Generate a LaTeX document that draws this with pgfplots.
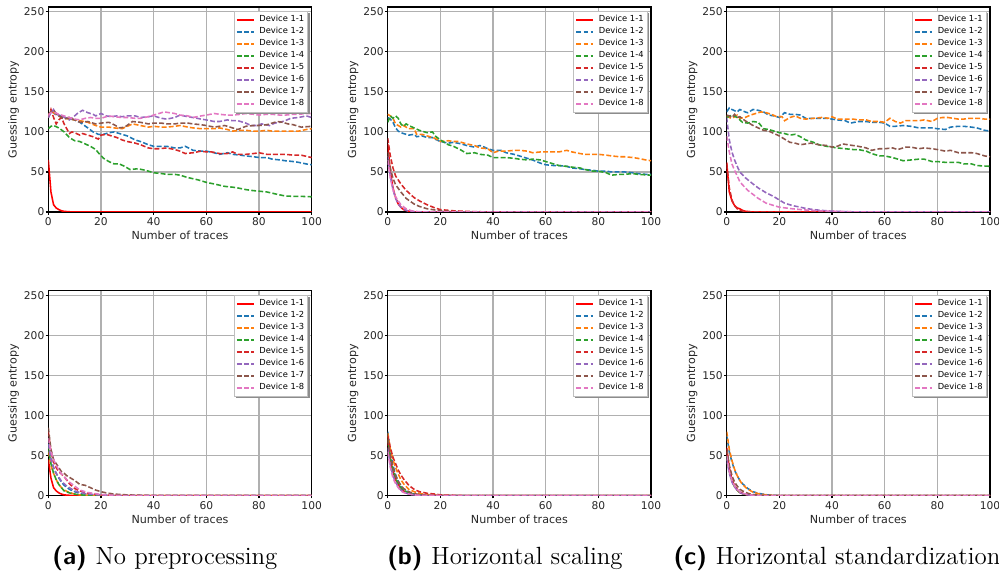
\documentclass[border=0pt]{standalone}
\usepackage{fontspec}
\usepackage{pgfplots}
\pgfplotsset{compat=1.18}
\newfontfamily\dv{DejaVu Sans}
\definecolor{c1}{HTML}{FF0000}
\definecolor{c2}{HTML}{1F77B4}
\definecolor{c3}{HTML}{FF7F0E}
\definecolor{c4}{HTML}{2CA02C}
\definecolor{c5}{HTML}{D62728}
\definecolor{c6}{HTML}{9467BD}
\definecolor{c7}{HTML}{8C564B}
\definecolor{c8}{HTML}{E377C2}
\definecolor{gridgray}{HTML}{B0B0B0}
\pgfplotsset{
  s1/.style={color=c1, solid, line width=0.7pt},
  dd/.style={dash pattern=on 2.2pt off 1pt, line width=0.7pt},
  gestyle/.style={
    scale only axis, width=118.5pt, height=92.25pt,
    anchor=south west,
    xmin=0, xmax=100, ymin=0, ymax=256,
    xtick={0,20,...,100}, ytick={0,50,...,250},
    grid=major, major grid style={line width=0.5pt, color=gridgray},
    axis line style={line width=0.6pt, black},
    tick align=outside, major tick length=1.2pt,
    tick style={line width=0.5pt, black},
    tick pos=left,
    /pgf/number format/assume math mode=true,
    tick label style={font=\dv\fontsize{4.8}{5.5}\selectfont, text=black!85},
    xticklabel style={inner sep=1.3pt},
    yticklabel style={inner sep=0.4pt},
    xlabel={Number of traces}, ylabel={Guessing entropy},
    label style={font=\dv\fontsize{5}{6}\selectfont, text=black!85, inner sep=0pt},
    xlabel style={at={(axis description cs:0.5,-0.1146)}, anchor=center},
    ylabel style={at={(axis description cs:-0.1317,0.5)}, anchor=center},
    legend image code/.code={\draw[#1, line width=0.8pt] (0pt,0pt) -- (7.5pt,0pt);},
    legend cell align=left,
    legend style={at={(1,1)}, anchor=north east, xshift=-1.7pt, yshift=-1.85pt,
      font=\dv\fontsize{3.75}{4}\selectfont, draw=black!25, line width=0.3pt,
      fill=white, inner xsep=0.9pt, inner ysep=1.9pt, row sep=1.7pt, column sep=1.6pt,
      nodes={inner xsep=0.6pt, inner ysep=0pt, text height=2.8pt, text depth=0.9pt}},
  }
}
\newcommand\devlegend{\legend{Device 1-1,Device 1-2,Device 1-3,Device 1-4,Device 1-5,Device 1-6,Device 1-7,Device 1-8}}
\newcommand\shadowfor[1]{%
  \fill[black!45] ([xshift=0.15pt,yshift=-0.9pt]#1.north east) rectangle ([xshift=0.9pt,yshift=-0.9pt]#1.south east);
  \fill[black!45] ([xshift=0.9pt,yshift=-0.15pt]#1.south west) rectangle ([xshift=0.9pt,yshift=-0.9pt]#1.south east);}
\begin{document}
\begin{tikzpicture}
\useasboundingbox (0,0) rectangle (449.55pt,259.65pt);
% ---------------- top (a)
\begin{axis}[gestyle, at={(21.74pt,164.25pt)}, legend style={name=La}]
\addplot[s1] coordinates {(0,65)(1,25)(2,9)(3,5)(4,3)(5,1.5)(6,0.8)(8,0.3)(10,0)(100,0)};
\addplot[c2,dd] coordinates {(0,118)(1,125)(2,124)(3,121)(5,120)(7,117)(10,115)(12,112)(15,105)(17,100)(19,97)(21,97)(23,99)(25,100)(28,97)(30,95)(33,90)(35,88)(38,84)(40,82)(43,82)(45,82)(48,80)(50,80)(52,82)(55,77)(58,76)(60,76)(63,74)(65,72)(68,74)(70,72)(73,71)(75,70)(78,69)(80,68)(83,68)(85,66)(88,65)(90,64)(93,63)(95,62)(98,60)(100,59)};
\addplot[c3,dd] coordinates {(0,120)(1,126)(3,122)(5,118)(8,116)(10,115)(12,114)(15,112)(18,108)(20,106)(23,106)(25,105)(28,104)(30,107)(32,110)(35,108)(38,106)(40,107)(43,106)(45,106)(48,107)(50,108)(53,106)(55,105)(58,104)(60,104)(63,104)(65,105)(68,103)(70,101)(73,102)(75,102)(78,101)(80,101)(83,102)(85,101)(88,101)(90,101)(93,101)(95,101)(98,103)(100,104)};
\addplot[c4,dd] coordinates {(0,104)(1,107)(2,108)(4,105)(6,100)(8,93)(10,89)(12,88)(14,85)(16,82)(18,78)(19,74)(21,67)(23,63)(25,60)(27,60)(29,57)(31,53)(34,54)(37,52)(40,49)(43,48)(45,47)(48,47)(50,46)(53,43)(57,40)(60,37)(63,35)(67,32)(70,31)(72,30)(75,28)(77,27)(80,26)(83,25)(87,22)(90,20)(93,19.5)(96,19.5)(100,19)};
\addplot[c5,dd] coordinates {(0,118)(1,128)(2,118)(3,110)(4,115)(5,118)(6,110)(7,104)(8,98)(9,100)(10,99)(12,96)(13,98)(15,96)(17,94)(19,91)(20,96)(22,97)(24,95)(26,93)(28,90)(30,88)(33,86)(35,84)(38,80)(40,79)(42,79)(45,80)(48,78)(50,76)(52,73)(55,74)(58,76)(60,75)(62,75)(65,73)(68,73)(70,75)(72,72)(75,72)(78,73)(80,74)(83,72)(85,72)(88,72)(90,72)(93,71)(96,71)(100,68)};
\addplot[c6,dd] coordinates {(0,118)(1,124)(2,128)(3,122)(5,120)(7,117)(8,115)(10,120)(11,123)(13,127)(15,124)(17,122)(18,120)(20,123)(22,120)(24,119)(26,120)(28,119)(30,120)(33,120)(35,118)(38,119)(40,120)(43,117)(45,116)(48,118)(50,121)(53,119)(55,118)(58,116)(60,115)(63,113)(65,113)(68,115)(70,114)(72,114)(75,111)(77,108)(79,108)(81,110)(84,108)(86,111)(88,112)(90,114)(92,117)(95,118)(98,120)(100,118)};
\addplot[c7,dd] coordinates {(0,122)(1,125)(2,127)(3,123)(4,120)(6,116)(8,118)(10,115)(12,112)(15,113)(18,110)(20,111)(23,112)(25,109)(27,105)(29,106)(32,113)(35,112)(38,110)(40,111)(43,111)(45,110)(48,110)(50,111)(53,111)(55,110)(58,109)(60,108)(63,106)(65,107)(67,108)(70,105)(72,103)(75,107)(78,108)(80,108)(83,109)(85,111)(87,113)(89,112)(91,110)(93,109)(96,106)(100,107)};
\addplot[c8,dd] coordinates {(0,121)(1,124)(2,125)(4,122)(6,120)(8,118)(10,116)(12,115)(14,117)(16,118)(18,117)(20,117)(23,120)(25,119)(28,118)(30,118)(33,117)(35,117)(38,119)(40,121)(42,123)(44,125)(46,124)(48,123)(50,121)(53,120)(55,118)(58,120)(60,121)(63,123)(65,122)(68,121)(70,121)(73,122)(75,123)(78,122)(80,121)(83,122)(85,122)(88,121)(90,121)(93,122)(95,122)(98,123)(100,123)};
\devlegend
\end{axis}
\shadowfor{La}
% ---------------- top (b)
\begin{axis}[gestyle, at={(174.47pt,164.25pt)}, legend style={name=Lb}]
\addplot[s1] coordinates {(0,85)(1,50)(2,30)(3,18)(4,10)(5,6)(6,3)(7,2)(8,1)(10,0.3)(12,0)(100,0)};
\addplot[c2,dd] coordinates {(0,118)(1,116)(2,112)(3,105)(4,101)(5,99)(7,97)(8,96)(10,97)(11,94)(13,95)(15,93)(17,93)(18,91)(20,88)(23,86)(25,87)(28,85)(30,83)(33,81)(35,83)(36,82)(38,79)(40,77)(43,77)(45,74)(48,72)(50,70)(53,67)(55,65)(58,61)(60,59)(63,58)(65,58)(68,57)(70,55)(73,54)(75,53)(78,52)(80,51)(83,51)(85,50)(88,50)(90,50)(93,49)(95,48)(98,47)(100,47)};
\addplot[c3,dd] coordinates {(0,122)(1,120)(2,117)(3,110)(4,108)(5,106)(6,108)(8,104)(10,104)(11,97)(13,97)(15,95)(18,92)(20,88)(23,89)(25,88)(27,88)(30,85)(33,83)(35,80)(38,79)(40,74)(42,76)(45,76)(48,77)(50,77)(53,76)(55,74)(58,75)(60,75)(63,75)(65,75)(68,77)(70,75)(73,73)(75,72)(78,72)(80,72)(83,71)(85,70)(88,69)(90,69)(93,68)(95,67)(98,65)(100,64)};
\addplot[c4,dd] coordinates {(0,112)(1,120)(2,117)(3,120)(4,117)(5,110)(6,107)(7,110)(8,108)(10,105)(12,102)(15,99)(17,100)(18,95)(20,90)(23,84)(25,82)(28,77)(30,73)(33,74)(35,72)(38,71)(40,68)(43,68)(45,68)(48,67)(50,66)(53,65)(55,66)(58,65)(60,63)(63,60)(65,58)(68,57)(70,56)(73,55)(75,53)(78,51)(80,51)(83,49)(85,46)(88,47)(90,47)(93,48)(95,47)(100,46)};
\addplot[c5,dd] coordinates {(0,92)(1,70)(2,55)(3,45)(5,35)(7,27)(10,18)(12,14)(15,9)(18,5)(20,3)(25,1.5)(30,0.7)(35,0.3)(40,0)(100,0)};
\addplot[c6,dd] coordinates {(0,70)(1,45)(2,28)(3,17)(4,10)(5,6)(6,4)(7,2)(8,1)(10,0.3)(12,0)(100,0)};
\addplot[c7,dd] coordinates {(0,75)(1,55)(2,42)(3,34)(5,25)(7,17)(10,10)(12,7)(15,4)(18,2.5)(20,1.5)(25,0.5)(30,0)(100,0)};
\addplot[c8,dd] coordinates {(0,65)(1,42)(2,28)(3,19)(5,9)(7,4)(9,1.5)(12,0.3)(15,0)(100,0)};
\devlegend
\end{axis}
\shadowfor{Lb}
% ---------------- top (c)
\begin{axis}[gestyle, at={(327.0pt,164.25pt)}, legend style={name=Lc}]
\addplot[s1] coordinates {(0,62)(1,25)(2,14)(3,8)(4,5)(5,4)(6,2)(7,1)(8,0.5)(10,0)(100,0)};
\addplot[c2,dd] coordinates {(0,125)(1,130)(2,128)(4,125)(5,128)(7,125)(8,124)(10,128)(12,127)(14,125)(16,121)(18,120)(20,118)(22,124)(24,122)(26,122)(28,121)(30,117)(33,117)(35,117)(38,117)(40,116)(42,115)(45,114)(47,111)(50,113)(53,113)(55,112)(58,112)(60,111)(62,107)(64,107)(67,108)(70,107)(73,105)(75,105)(78,105)(80,104)(83,103)(85,106)(88,107)(90,107)(93,106)(95,105)(98,102)(100,101)};
\addplot[c3,dd] coordinates {(0,120)(1,118)(2,117)(4,121)(5,117)(7,118)(9,121)(11,123)(13,125)(15,124)(17,122)(19,119)(21,119)(22,114)(24,118)(26,120)(28,117)(30,116)(33,117)(36,118)(39,117)(40,119)(42,116)(45,116)(48,116)(50,115)(53,115)(55,113)(58,113)(60,112)(62,117)(64,113)(66,111)(68,114)(70,114)(73,114)(75,115)(78,113)(80,117)(82,118)(84,118)(86,117)(88,116)(90,116)(92,117)(94,117)(96,117)(98,116)(100,116)};
\addplot[c4,dd] coordinates {(0,118)(2,121)(4,118)(6,112)(8,111)(10,113)(12,112)(14,104)(16,103)(18,101)(20,99)(22,98)(24,96)(26,97)(28,94)(30,90)(33,87)(35,84)(38,82)(40,81)(42,80)(45,79)(48,78)(50,78)(53,76)(55,73)(58,70)(60,70)(63,68)(65,66)(67,64)(70,65)(73,66)(75,66)(78,63)(80,63)(83,62)(85,62)(88,62)(90,60)(93,60)(95,58)(100,57)};
\addplot[c5,dd] coordinates {(0,60)(1,30)(2,15)(3,8)(4,4)(5,2)(7,0.8)(10,0)(100,0)};
\addplot[c6,dd] coordinates {(0,118)(1,90)(2,75)(3,65)(4,57)(5,50)(7,43)(10,35)(12,30)(15,24)(18,19)(20,15)(22,11)(25,8)(28,6)(30,4.5)(33,3)(36,2)(40,1)(45,0.5)(50,0)(100,0)};
\addplot[c7,dd] coordinates {(0,121)(1,120)(2,118)(3,122)(4,118)(5,119)(7,114)(9,110)(10,108)(12,105)(14,102)(16,101)(18,98)(20,95)(22,91)(24,87)(26,86)(28,84)(30,85)(32,86)(35,84)(38,83)(40,81)(42,82)(44,85)(46,84)(48,83)(50,82)(53,80)(55,77)(58,79)(60,79)(63,80)(65,78)(68,81)(70,81)(73,79)(75,80)(78,79)(80,78)(83,76)(85,77)(88,74)(90,74)(93,74)(95,73)(98,70)(100,69)};
\addplot[c8,dd] coordinates {(0,95)(1,75)(2,60)(3,52)(4,45)(5,38)(6,34)(8,27)(10,22)(12,17)(15,11)(18,8)(20,6)(25,4)(30,2.5)(35,1.5)(40,1)(45,0.5)(50,0)(100,0)};
\devlegend
\end{axis}
\shadowfor{Lc}
% ---------------- bottom (a)
\begin{axis}[gestyle, at={(21.74pt,36.59pt)}, legend style={name=Ld, yshift=-0.135pt}]
\addplot[s1] coordinates {(0,45)(1,22)(2,10)(3,6)(4,3.5)(5,2)(6,1)(8,0.5)(10,0)(100,0)};
\addplot[c2,dd] coordinates {(0,65)(1,45)(2,35)(3,28)(4,22)(5,17)(6,13)(8,8)(10,5)(12,3)(15,1.5)(20,0.5)(25,0)(100,0)};
\addplot[c3,dd] coordinates {(0,55)(1,38)(2,28)(3,20)(4,14)(5,10)(6,7)(8,4)(10,2)(12,1)(15,0.5)(20,0)(100,0)};
\addplot[c4,dd] coordinates {(0,60)(1,40)(2,28)(3,20)(4,14)(5,10)(6,6)(8,3.5)(10,2)(12,1)(15,0.5)(20,0)(100,0)};
\addplot[c5,dd] coordinates {(0,80)(1,55)(2,42)(3,35)(4,30)(5,27)(6,24)(8,15)(10,9)(12,6)(15,3)(20,1)(25,0.5)(30,0)(100,0)};
\addplot[c6,dd] coordinates {(0,65)(1,45)(2,35)(3,28)(5,18)(7,12)(10,6)(12,4)(15,2)(20,0.8)(25,0.3)(30,0)(100,0)};
\addplot[c7,dd] coordinates {(0,85)(1,58)(2,45)(3,40)(4,35)(5,30)(6,28)(7,25)(8,23)(10,19)(12,14)(14,13)(16,10)(18,7)(20,5)(22,3.5)(25,2)(30,1)(35,0.5)(40,0)(100,0)};
\addplot[c8,dd] coordinates {(0,72)(1,55)(2,45)(3,38)(4,32)(5,27)(6,24)(7,20)(8,17)(10,12)(12,7)(15,4)(20,1.5)(25,0.5)(30,0)(100,0)};
\devlegend
\end{axis}
\shadowfor{Ld}
% ---------------- bottom (b)
\begin{axis}[gestyle, at={(174.47pt,36.59pt)}, legend style={name=Le, yshift=-0.135pt}]
\addplot[s1] coordinates {(0,70)(1,45)(2,30)(3,20)(4,14)(5,9)(6,6)(8,3)(10,1.5)(12,0.8)(15,0.3)(20,0)(100,0)};
\addplot[c2,dd] coordinates {(0,80)(1,55)(2,38)(3,26)(4,18)(5,12)(6,8)(8,4)(10,2)(12,1)(15,0.4)(20,0)(100,0)};
\addplot[c3,dd] coordinates {(0,78)(1,58)(2,45)(3,35)(4,27)(5,20)(6,15)(8,8)(10,5)(12,3)(15,1.5)(20,0.5)(25,0)(100,0)};
\addplot[c4,dd] coordinates {(0,72)(1,48)(2,32)(3,22)(4,15)(5,10)(6,7)(8,3)(10,1.5)(12,0.7)(15,0)(100,0)};
\addplot[c5,dd] coordinates {(0,75)(1,60)(2,48)(3,40)(4,32)(5,26)(6,21)(8,13)(10,8)(12,5)(15,3)(18,2)(20,1)(25,0.5)(30,0)(100,0)};
\addplot[c6,dd] coordinates {(0,60)(1,38)(2,25)(3,17)(4,11)(5,7)(6,4.5)(8,2)(10,1)(12,0.4)(15,0)(100,0)};
\addplot[c7,dd] coordinates {(0,70)(1,50)(2,35)(3,25)(4,18)(5,13)(6,9)(8,5)(10,2.5)(12,1.5)(15,0.5)(20,0)(100,0)};
\addplot[c8,dd] coordinates {(0,55)(1,35)(2,22)(3,15)(4,10)(5,6)(6,4)(8,2)(10,1)(12,0.5)(15,0.3)(20,0.2)(25,0)(100,0)};
\devlegend
\end{axis}
\shadowfor{Le}
% ---------------- bottom (c)
\begin{axis}[gestyle, at={(327.0pt,36.59pt)}, legend style={name=Lf, yshift=-0.135pt}]
\addplot[s1] coordinates {(0,60)(1,35)(2,20)(3,12)(4,7)(5,4)(6,2.5)(8,1)(10,0.3)(12,0)(100,0)};
\addplot[c2,dd] coordinates {(0,75)(1,55)(2,42)(3,32)(4,25)(5,19)(6,15)(8,9)(10,5)(12,3)(15,1.2)(18,0.5)(20,0)(100,0)};
\addplot[c3,dd] coordinates {(0,80)(1,58)(2,44)(3,33)(4,25)(5,19)(6,14)(8,8)(10,4.5)(12,2.5)(15,1)(18,0.3)(20,0)(100,0)};
\addplot[c4,dd] coordinates {(0,50)(1,30)(2,18)(3,11)(4,7)(5,4)(6,2.5)(8,1)(10,0.5)(12,0)(100,0)};
\addplot[c5,dd] coordinates {(0,55)(1,32)(2,20)(3,12)(4,8)(5,5)(6,3)(8,1.5)(10,0.5)(12,0)(100,0)};
\addplot[c6,dd] coordinates {(0,45)(1,28)(2,17)(3,11)(4,7)(5,4)(6,2.5)(8,1)(10,0.3)(12,0)(100,0)};
\addplot[c7,dd] coordinates {(0,58)(1,38)(2,25)(3,17)(4,12)(5,8)(6,6)(8,3)(10,1.5)(12,0.6)(15,0)(100,0)};
\addplot[c8,dd] coordinates {(0,50)(1,30)(2,19)(3,12)(4,8)(5,5)(6,3)(8,1.5)(10,0.5)(12,0)(100,0)};
\devlegend
\end{axis}
\shadowfor{Lf}
% ---------------- captions
\node[anchor=base west, inner sep=0pt, font=\fontsize{11.2}{13}\selectfont] at (23.4pt,5.85pt) {{\sffamily\bfseries(a)}\hspace{4pt}No preprocessing};
\node[anchor=base west, inner sep=0pt, font=\fontsize{11.2}{13}\selectfont] at (174.1pt,5.85pt) {{\sffamily\bfseries(b)}\hspace{4pt}Horizontal scaling};
\node[anchor=base west, inner sep=0pt, font=\fontsize{11.2}{13}\selectfont] at (302.9pt,5.85pt) {{\sffamily\bfseries(c)}\hspace{4pt}Horizontal standardization};
\end{tikzpicture}
\end{document}
